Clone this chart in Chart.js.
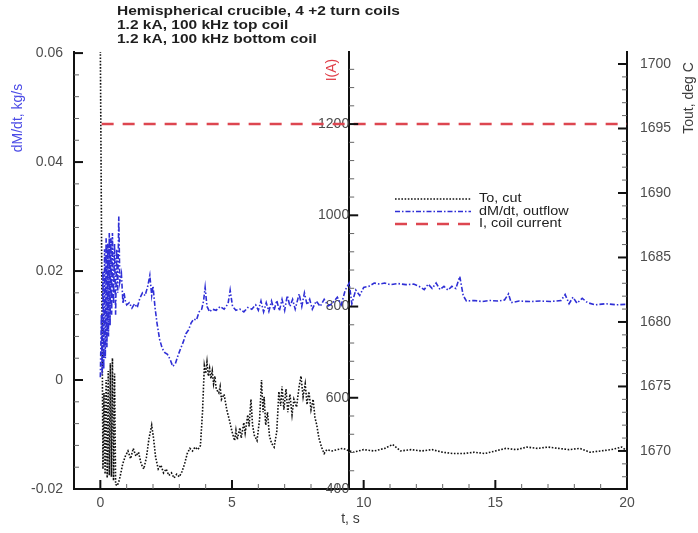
<!DOCTYPE html>
<html>
<head>
<meta charset="utf-8">
<script src="https://cdn.jsdelivr.net/npm/chart.js@4.4.1/dist/chart.umd.min.js"></script>
<style>
  html, body { margin: 0; padding: 0; background: #fff; }
</style>
</head>
<body>
<canvas id="myChart" width="698" height="533"></canvas>
<script>
// values

// To, cut (right axis, deg C)
const tempTime = [
  0, 0.1, 0.14, 0.18, 0.22, 0.26, 0.3, 0.34, 0.38, 0.42,
  0.46, 0.5, 0.54, 0.58, 0.64, 0.7, 0.75, 0.85, 0.95, 1.05,
  1.15, 1.25, 1.35, 1.45, 1.55, 1.65, 1.75, 1.85, 1.95, 2.02,
  2.1, 2.2, 2.3, 2.4, 2.5, 2.6, 2.7, 2.8, 2.9, 3.0,
  3.1, 3.2, 3.3, 3.4, 3.5, 3.6, 3.7, 3.8, 3.88, 3.95,
  4.0, 4.05, 4.1, 4.15, 4.2, 4.25, 4.3, 4.35, 4.4, 4.5,
  4.55, 4.6, 4.7, 4.8, 4.9, 5.0, 5.1, 5.15, 5.2, 5.3,
  5.35, 5.45, 5.5, 5.6, 5.65, 5.72, 5.78, 5.85, 5.95, 6.05,
  6.12, 6.18, 6.22, 6.28, 6.35, 6.42, 6.5, 6.6, 6.7, 6.78,
  6.85, 6.9, 6.97, 7.05, 7.12, 7.2, 7.28, 7.35, 7.45, 7.55,
  7.62, 7.7, 7.78, 7.85, 7.92, 8.0, 8.08, 8.15, 8.22, 8.3,
  8.4, 8.5, 8.6, 8.8, 9.2, 9.6, 10.0, 10.4, 10.8, 11.1,
  11.4, 11.8, 12.2, 12.6, 13.0, 13.4, 13.8, 14.2, 14.6, 15.0,
  15.4, 15.8, 16.2, 16.6, 17.0, 17.4, 17.8, 18.2, 18.6, 19.0,
  19.4, 19.8, 20.0
];
const tempOut = [
  1701.5, 1668.6, 1674.5, 1668.2, 1675.5, 1667.9, 1676.2, 1668.1, 1676.8, 1668.0,
  1677.2, 1667.7, 1676.0, 1667.4, 1667.3, 1667.6, 1668.0, 1669.0, 1669.6, 1670.0,
  1669.4, 1670.2, 1669.6, 1669.9, 1669.0, 1668.6, 1669.5, 1671.0, 1672.0, 1671.0,
  1669.5, 1668.6, 1668.9, 1668.3, 1668.6, 1668.1, 1668.3, 1667.9, 1668.2, 1668.0,
  1668.4, 1669.0, 1669.8, 1670.2, 1670.0, 1670.3, 1670.1, 1670.4, 1673.0, 1676.6,
  1676.0, 1676.9, 1675.8, 1676.4, 1675.6, 1676.2, 1675.2, 1675.8, 1674.8, 1674.5,
  1675.0, 1674.0, 1674.4, 1673.2, 1672.4, 1671.5, 1670.8, 1671.6, 1670.9, 1671.8,
  1671.0, 1672.2, 1671.4, 1672.8, 1671.9, 1674.0, 1672.0, 1671.2, 1670.8, 1672.5,
  1675.5, 1673.0, 1674.2, 1672.0, 1673.0, 1671.2, 1670.6, 1670.3, 1671.5, 1674.6,
  1673.5, 1675.0, 1673.2, 1674.8, 1673.0, 1674.4, 1672.8, 1674.0, 1673.4, 1675.0,
  1675.8, 1674.2, 1675.2, 1673.6, 1674.6, 1673.2, 1674.0, 1672.6, 1672.0, 1671.0,
  1670.3, 1669.8, 1670.1, 1670.0, 1670.2, 1669.9, 1670.1, 1670.0, 1670.2, 1670.5,
  1670.0, 1670.1, 1670.0, 1670.1, 1669.9, 1669.8, 1669.8, 1669.9, 1669.8, 1670.0,
  1670.2, 1670.1, 1670.3, 1670.2, 1670.3, 1670.2, 1670.1, 1670.2, 1669.9, 1670.0,
  1670.1, 1670.3, 1670.0
];

// dM/dt, outflow (left axis, kg/s)
const flowTime = [
  0, 0.04, 0.07, 0.1, 0.13, 0.16, 0.19, 0.22, 0.25, 0.28,
  0.31, 0.34, 0.37, 0.4, 0.43, 0.46, 0.5, 0.54, 0.58, 0.62,
  0.66, 0.7, 0.74, 0.8, 0.86, 0.9, 0.95, 1.0, 1.1, 1.2,
  1.3, 1.4, 1.5, 1.6, 1.7, 1.8, 1.88, 1.95, 2.0, 2.08,
  2.15, 2.25, 2.35, 2.45, 2.55, 2.65, 2.75, 2.85, 2.95, 3.05,
  3.15, 3.25, 3.35, 3.45, 3.55, 3.65, 3.75, 3.85, 3.92, 3.98,
  4.05, 4.15, 4.25, 4.4, 4.55, 4.7, 4.85, 4.93, 5.02, 5.15,
  5.3, 5.45, 5.6, 5.75, 5.9, 6.0, 6.1, 6.2, 6.3, 6.4,
  6.5, 6.6, 6.7, 6.8, 6.9, 7.0, 7.1, 7.2, 7.3, 7.4,
  7.55, 7.65, 7.75, 7.85, 7.95, 8.05, 8.2, 8.35, 8.5, 8.65,
  8.8, 9.0, 9.15, 9.3, 9.45, 9.55, 9.7, 9.85, 10.0, 10.2,
  10.4, 10.6, 10.8, 11.0, 11.3, 11.6, 11.9, 12.1, 12.3, 12.45,
  12.6, 12.75, 12.9, 13.05, 13.2, 13.35, 13.5, 13.65, 13.78, 13.9,
  14.2, 14.5, 14.8, 15.1, 15.35, 15.5, 15.6, 15.9, 16.3, 16.7,
  17.1, 17.5, 17.65, 17.8, 17.95, 18.1, 18.3, 18.5, 18.8, 19.2,
  19.6, 20.0
];
const flowRate = [
  0.0005, 0.012, 0.001, 0.02, 0.002, 0.024, 0.004, 0.026, 0.006, 0.025,
  0.008, 0.027, 0.01, 0.026, 0.012, 0.027, 0.014, 0.025, 0.012, 0.024,
  0.016, 0.03, 0.018, 0.0195, 0.014, 0.016, 0.0145, 0.0138, 0.0142, 0.0132,
  0.014, 0.0133, 0.015, 0.016, 0.0155, 0.0172, 0.0192, 0.0155, 0.0172, 0.0132,
  0.0105, 0.0075, 0.0058, 0.005, 0.0047, 0.0038, 0.0025, 0.003, 0.0045, 0.0058,
  0.007, 0.0085, 0.0092, 0.0105, 0.0112, 0.011, 0.0125, 0.013, 0.0145, 0.017,
  0.0135, 0.0125, 0.013, 0.0128, 0.0135, 0.013, 0.014, 0.0165, 0.0135, 0.0128,
  0.013, 0.0125, 0.0133, 0.013, 0.0138, 0.0128, 0.0145, 0.0125, 0.0142, 0.0126,
  0.0145, 0.0128, 0.0146, 0.0127, 0.0148, 0.0128, 0.0155, 0.0135, 0.0148, 0.013,
  0.0158, 0.0135, 0.016, 0.0138, 0.0148, 0.013, 0.0145, 0.0135, 0.0148, 0.0136,
  0.014, 0.0152, 0.0138, 0.0165, 0.0178, 0.014, 0.0165, 0.0155, 0.017, 0.0172,
  0.0178, 0.0176, 0.0178, 0.0175, 0.0177, 0.0175, 0.0176, 0.0172, 0.0166, 0.0176,
  0.0168, 0.0178, 0.0166, 0.0172, 0.0165, 0.0172, 0.0168, 0.019, 0.0155, 0.0145,
  0.0146, 0.0144, 0.0146, 0.0145, 0.0147, 0.0158, 0.0142, 0.0145, 0.0144, 0.0145,
  0.0144, 0.0146, 0.0157, 0.014, 0.0152, 0.0141, 0.015, 0.0142, 0.0138, 0.014,
  0.0138, 0.0139
];

// I, coil current (middle axis, A)
const currentTime = [0.05, 20];
const coilCurrent = [1200, 1200];

const xTicks = [0, 5, 10, 15, 20];
const flowTicks = [-0.02, 0, 0.02, 0.04, 0.06];
const currentTicks = [400, 600, 800, 1000, 1200];
const tempTicks = [1670, 1675, 1680, 1685, 1690, 1695, 1700];

const titleLines = [
  'Hemispherical crucible, 4 +2 turn coils',
  '1.2 kA, 100 kHz top coil',
  '1.2 kA, 100 kHz bottom coil'
];
const legendLabels = ['To, cut', 'dM/dt, outflow', 'I, coil current'];

const midAxisAt = 9.45; // time where the current axis stands

Chart.defaults.font.family = '"Liberation Sans", Arial, sans-serif';

function pairs(xs, ys) {
  return xs.map((x, i) => ({x: x, y: ys[i]}));
}

function fixedTicks(list) {
  return function (scale) {
    scale.ticks = list.map(v => ({value: v}));
  };
}

function noPad(scale) {
  scale.paddingTop = 0;
  scale.paddingBottom = 0;
  scale.paddingLeft = 0;
  scale.paddingRight = 0;
}

const plain = v => String(v);
const tickLabel = {size: 14};
const tickColor = '#4d4d4d';
const axisBorder = {display: true, color: '#111', width: 2};
const noGrid = {display: false, drawTicks: false};

// inward tick marks, major and minor
const tickMarks = {
  id: 'tickMarks',
  afterDatasetsDraw(chart) {
    const {ctx, chartArea: a, scales} = chart;
    const each = (scale, step, major, fn) => {
      const n0 = Math.ceil(scale.min / step - 1e-6);
      const n1 = Math.floor(scale.max / step + 1e-6);
      for (let n = n0; n <= n1; n++) {
        const v = n * step;
        const r = v / major;
        fn(scale.getPixelForValue(v), Math.abs(r - Math.round(r)) < 1e-6);
      }
    };
    const seg = (x1, y1, x2, y2, major) => {
      ctx.beginPath();
      ctx.lineWidth = major ? 2 : 1;
      ctx.strokeStyle = major ? '#111' : '#666';
      ctx.moveTo(x1, y1);
      ctx.lineTo(x2, y2);
      ctx.stroke();
    };
    ctx.save();
    each(scales.x, 1, 5, (p, m) => {
      if (p <= a.left + 1 || p >= a.right - 1) return;
      seg(p, a.bottom, p, a.bottom - (m ? 9 : 5), m);
    });
    each(scales.yL, 0.004, 0.02, (p, m) => {
      if (p >= a.bottom - 1) return;
      seg(a.left, p, a.left + (m ? 9 : 5), p, m);
    });
    const mx = scales.x.getPixelForValue(midAxisAt);
    each(scales.yM, 40, 200, (p, m) => {
      if (p >= a.bottom - 1) return;
      seg(mx, p, mx + (m ? 9 : 5), p, m);
    });
    each(scales.yR, 1, 5, (p, m) => {
      seg(a.right, p, a.right - (m ? 9 : 5), p, m);
    });
    ctx.restore();
  }
};

// title block, axis captions and the legend
const annotate = {
  id: 'annotate',
  afterDraw(chart) {
    const ctx = chart.ctx;
    const ds = chart.data.datasets;
    ctx.save();

    ctx.fillStyle = '#1e1e1e';
    ctx.font = 'bold 12.5px "Liberation Sans", Arial, sans-serif';
    ctx.textBaseline = 'middle';
    ctx.textAlign = 'left';
    titleLines.forEach((line, i) => {
      ctx.save();
      ctx.translate(117, 12 + i * 14);
      ctx.scale(1.24, 1);
      ctx.fillText(line, 0, 0);
      ctx.restore();
    });

    const vertical = (text, x, y, color) => {
      ctx.save();
      ctx.translate(x, y);
      ctx.rotate(-Math.PI / 2);
      ctx.fillStyle = color;
      ctx.textAlign = 'center';
      ctx.textBaseline = 'middle';
      ctx.fillText(text, 0, 0);
      ctx.restore();
    };
    ctx.font = '14px "Liberation Sans", Arial, sans-serif';
    vertical('dM/dt, kg/s', 18, 118, '#4b4be6');
    vertical('I(A)', 332, 70, '#e0404a');
    vertical('Tout, deg C', 689, 98, '#3c3c3c');

    // legend
    ctx.font = '12px "Liberation Sans", Arial, sans-serif';
    ds.forEach((d, i) => {
      const y = 199 + i * 12.5;
      ctx.beginPath();
      ctx.setLineDash(d.borderDash);
      ctx.lineWidth = d.borderWidth;
      ctx.strokeStyle = d.borderColor;
      ctx.moveTo(395, y);
      ctx.lineTo(471, y);
      ctx.stroke();
      ctx.setLineDash([]);
      ctx.save();
      ctx.translate(479, y);
      ctx.scale(1.2, 1);
      ctx.fillStyle = '#222';
      ctx.textAlign = 'left';
      ctx.fillText(legendLabels[i], 0, 0);
      ctx.restore();
    });
    ctx.restore();
  }
};

const ctx = document.getElementById('myChart');

new Chart(ctx, {
  type: 'line',
  data: {
    datasets: [
      {
        label: legendLabels[0],
        data: pairs(tempTime, tempOut),
        yAxisID: 'yR',
        borderColor: '#111',
        borderWidth: 1.6,
        borderDash: [1.6, 1.6],
        order: 2
      },
      {
        label: legendLabels[1],
        data: pairs(flowTime, flowRate),
        yAxisID: 'yL',
        borderColor: '#2f2fd6',
        borderWidth: 1.6,
        borderDash: [5, 2, 1.5, 2],
        order: 1
      },
      {
        label: legendLabels[2],
        data: pairs(currentTime, coilCurrent),
        yAxisID: 'yM',
        borderColor: '#dd4650',
        borderWidth: 2.5,
        borderDash: [12, 9],
        order: 0
      }
    ]
  },
  options: {
    responsive: false,
    animation: false,
    layout: {padding: {top: 52, left: 0, right: 0, bottom: 0}},
    elements: {point: {radius: 0}, line: {tension: 0, fill: false}},
    plugins: {legend: {display: false}, tooltip: {enabled: false}},
    scales: {
      x: {
        type: 'linear',
        position: 'bottom',
        min: -1,
        max: 20,
        afterBuildTicks: fixedTicks(xTicks),
        afterFit(scale) { noPad(scale); scale.height = 44; },
        grid: noGrid,
        border: axisBorder,
        ticks: {font: tickLabel, color: tickColor, padding: 6, maxRotation: 0, callback: plain},
        title: {display: true, text: 't, s', color: '#3c3c3c', font: {size: 14}, padding: {top: 0, bottom: 5}}
      },
      yL: {
        type: 'linear',
        position: 'left',
        min: -0.02,
        max: 0.0602,
        afterBuildTicks: fixedTicks(flowTicks),
        afterFit(scale) { noPad(scale); scale.width = 74; },
        grid: noGrid,
        border: axisBorder,
        ticks: {
          font: tickLabel, color: tickColor, padding: 11,
          callback: v => (Math.abs(v) < 1e-9 ? '0' : v.toFixed(2))
        }
      },
      yM: {
        type: 'linear',
        position: {x: midAxisAt},
        min: 400,
        max: 1358,
        afterBuildTicks: fixedTicks(currentTicks),
        afterFit(scale) { noPad(scale); },
        grid: noGrid,
        border: axisBorder,
        ticks: {font: tickLabel, color: tickColor, padding: 6, callback: plain}
      },
      yR: {
        type: 'linear',
        position: 'right',
        min: 1667.05,
        max: 1700.93,
        afterBuildTicks: fixedTicks(tempTicks),
        afterFit(scale) { noPad(scale); scale.width = 71; },
        grid: noGrid,
        border: axisBorder,
        ticks: {font: tickLabel, color: tickColor, padding: 13, callback: plain}
      }
    }
  },
  plugins: [tickMarks, annotate]
});
</script>
</body>
</html>
